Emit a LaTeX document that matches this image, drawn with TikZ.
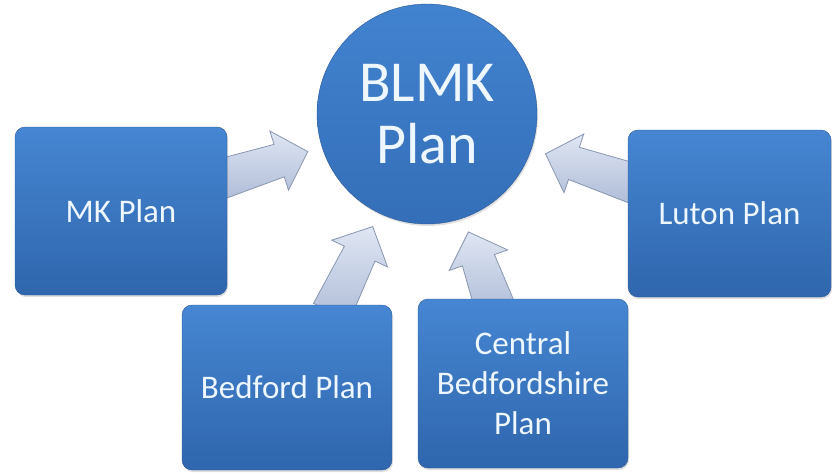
\documentclass[tikz,border=0pt]{standalone}
\usepackage{fontspec}
\setmainfont{Carlito}
\usetikzlibrary{calc,shadows,backgrounds}
\definecolor{planbluetop}{HTML}{4686D2}
\definecolor{planbluebot}{HTML}{2F66AD}
\definecolor{planedge}{HTML}{2A5A98}
\definecolor{hubtop}{HTML}{4283CF}
\definecolor{hubbot}{HTML}{346EB8}
\definecolor{plantext}{HTML}{EEF6FF}
\definecolor{arrowlight}{HTML}{DFE6F3}
\definecolor{arrowdark}{HTML}{B0BDD8}
\definecolor{arrowedge}{HTML}{8896B0}
\tikzset{
    plan/.style={
           rectangle,
           rounded corners=10pt,
           draw=planedge,
           top color=planbluetop,
           bottom color=planbluebot,
           text=plantext,
           minimum width=210pt,
           minimum height=167pt,
           align=center,
           font=\fontsize{33}{40}\selectfont,
           drop shadow={opacity=0.25,shadow xshift=1pt,shadow yshift=-2pt},
           },
}

\begin{document}
\begin{tikzpicture}[
  x=1pt,y=-1pt,
  node distance=97pt,
  hub/.style={circle,minimum size=220pt,inner sep=0pt,draw=planedge,
    top color=hubtop,bottom color=hubbot,text=plantext,
    align=center,font=\fontsize{58}{62}\selectfont,
    drop shadow={opacity=0.25,shadow xshift=1pt,shadow yshift=-2pt}},
  feed/.style={draw=arrowedge,line width=0.8pt,top color=arrowlight,
    bottom color=arrowdark}]
\useasboundingbox (0,0) rectangle (832,472);
\node[hub](blmk) at (427,114){BLMK\\Plan};
\node[plan,below of=blmk,xshift=-306pt,minimum width=212pt,minimum height=168pt](mk){MK Plan};
\node[plan,below of=blmk,xshift=302.5pt,node distance=99.5pt,minimum width=203pt](luton){Luton Plan};
\node[plan,below of=blmk,xshift=-140pt,node distance=273.5pt,minimum height=165pt](bedford){Bedford Plan};
\node[plan,below of=blmk,xshift=96pt,node distance=269.5pt,minimum height=169pt](central){Central\\Bedfordshire\\Plan};

% arrow roots on the plan boxes
\coordinate (mktail) at ([yshift=34pt]mk.east);
\coordinate (lutontail) at ([yshift=32pt]luton.west);
\coordinate (bedfordtail) at ([xshift=48pt]bedford.north);
\coordinate (centraltail) at ([xshift=-31pt]central.north);

\begin{scope}[on background layer]
\foreach \t in {mktail,bedfordtail,centraltail,lutontail}{
  \coordinate (tip) at ($(blmk.center)!125pt!(\t)$);
  \coordinate (neck) at ($(tip)!30pt!(\t)$);
  \coordinate (root) at ($(\t)!-8pt!(tip)$);
  \draw[feed] ($(root)!20pt!90:(tip)$) -- ($(neck)!17pt!90:(tip)$)
    -- ($(neck)!31pt!90:(tip)$) -- (tip) -- ($(neck)!31pt!-90:(tip)$)
    -- ($(neck)!17pt!-90:(tip)$) -- ($(root)!20pt!-90:(tip)$) -- cycle;
}
\end{scope}
\end{tikzpicture}
\end{document}
